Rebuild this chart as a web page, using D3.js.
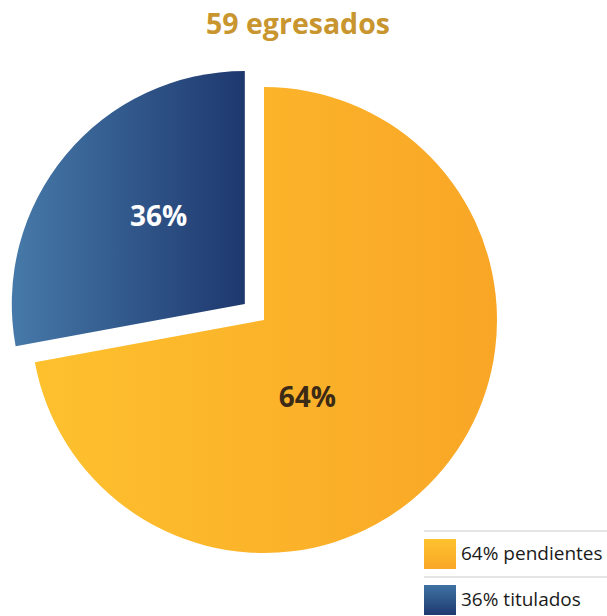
<!DOCTYPE html>
<html>
<head>
<meta charset="utf-8">
<script src="https://cdn.jsdelivr.net/npm/d3@7"></script>
<style>
  body { margin: 0; background: #fff; }
  svg { display: block; font-family: "Open Sans", sans-serif; }
</style>
</head>
<body>
<svg id="chart" width="607" height="616"></svg>
<script>
// data
const title = "59 egresados";
const categories = ["pendientes", "titulados"];
const percents = [64, 36];
// share of the circle each slice covers as drawn
const sliceShares = [72.1, 27.9];

const svg = d3.select("#chart");
const cx = 264, cy = 320, radius = 233, explode = 25;

// gradients for slices and legend swatches
const defs = svg.append("defs");
function gradient(id, from, to, vertical){
	const g = defs.append("linearGradient")
		.attr("id", id)
		.attr("x1", 0).attr("y1", 0)
		.attr("x2", vertical ? 0 : 1)
		.attr("y2", vertical ? 1 : 0);
	g.append("stop").attr("offset", "0%").attr("stop-color", from);
	g.append("stop").attr("offset", "100%").attr("stop-color", to);
}
gradient("g0", "#fec12e", "#f9a626", false);
gradient("g1", "#4679a9", "#1e386e", false);
gradient("l0", "#fec22e", "#f9a727", true);
gradient("l1", "#3f72a3", "#1f3a70", true);

const textColors = ["#3b2a15", "#ffffff"];

// title
svg.append("text")
	.attr("x", 298)
	.attr("y", 34)
	.attr("text-anchor", "middle")
	.attr("font-size", 28.5)
	.attr("font-weight", 700)
	.attr("fill", "#c8952e")
	.text(title);

const pie = d3.pie().sort(null).value(d => d.share);
const rows = categories.map((c, i) => ({cat: c, pct: percents[i], share: sliceShares[i]}));
const arcs = pie(rows);

const arc = d3.arc().innerRadius(0).outerRadius(radius);

const g = svg.append("g").attr("transform", `translate(${cx},${cy})`);

const slices = g.selectAll("g.slice")
	.data(arcs)
	.enter()
	.append("g")
	.attr("class", "slice")
	.attr("transform", (d, i) => {
		if (i === 0) return null;
		const p = d3.pointRadial((d.startAngle + d.endAngle) / 2, explode);
		return `translate(${p[0]},${p[1]})`;
	});

slices.append("path")
	.attr("d", arc)
	.attr("fill", (d, i) => `url(#g${i})`);

// label positions inside each slice (angle offset, radius)
const labelPos = [{da: 0.36, r: 88}, {da: 0.1, r: 123}];
slices.append("text")
	.attr("transform", (d, i) => {
		const a = (d.startAngle + d.endAngle) / 2 + labelPos[i].da;
		const p = d3.pointRadial(a, labelPos[i].r);
		return `translate(${p[0]},${p[1]})`;
	})
	.attr("text-anchor", "middle")
	.attr("dy", "0.36em")
	.attr("font-size", 28)
	.attr("font-weight", 700)
	.attr("fill", (d, i) => textColors[i])
	.text(d => d.data.pct + "%");

// legend
const legend = svg.append("g").attr("transform", "translate(424,531)");
const item = legend.selectAll("g")
	.data(rows)
	.enter()
	.append("g")
	.attr("transform", (d, i) => `translate(0,${i * 46})`);

item.append("line")
	.attr("x1", 0).attr("x2", 183)
	.attr("y1", 0).attr("y2", 0)
	.attr("stroke", "#dcdcdc")
	.attr("stroke-width", 1.5);

item.append("rect")
	.attr("x", 0).attr("y", 8)
	.attr("width", 32).attr("height", 30)
	.attr("fill", (d, i) => `url(#l${i})`);

item.append("text")
	.attr("x", 37)
	.attr("y", 29)
	.attr("font-size", 19)
	.attr("fill", "#1a1a1a")
	.text(d => d.pct + "% " + d.cat);
</script>
</body>
</html>
